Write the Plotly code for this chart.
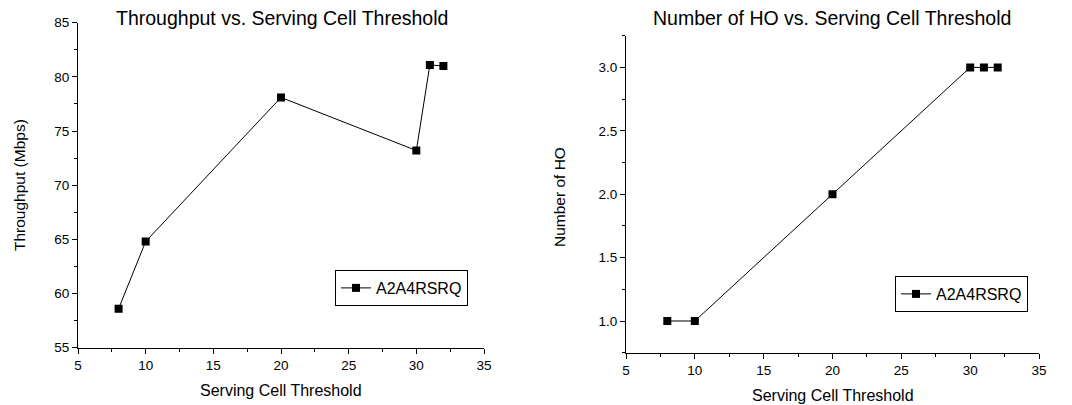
import plotly.graph_objects as go

threshold = [8, 10, 20, 30, 31, 32]
throughput = [58.6, 64.8, 78.1, 73.2, 81.1, 81.0]
num_ho = [1, 1, 2, 3, 3, 3]
series_name = "A2A4RSRQ"

FONT = "Liberation Sans, Arial, sans-serif"
H = 405.0
W = 1072.0
OFF = 8.0  # page body offset


def fx(p):
    return (p - OFF) / W


def fy(p):
    return 1 - (p - OFF) / H


fig = go.Figure()
fig.add_trace(go.Scatter(x=threshold, y=throughput, mode="lines+markers", name=series_name,
                         line=dict(color="black", width=1),
                         marker=dict(symbol="square", size=8, color="black"),
                         xaxis="x", yaxis="y", legend="legend"))
fig.add_trace(go.Scatter(x=threshold, y=num_ho, mode="lines+markers", name=series_name,
                         line=dict(color="black", width=1),
                         marker=dict(symbol="square", size=8, color="black"),
                         xaxis="x2", yaxis="y2", legend="legend2"))


def ax(dom, rng, dtick, minor_dtick, anchor, fmt=None):
    d = dict(domain=dom, range=rng, dtick=dtick, tick0=0, showgrid=False, zeroline=False,
             showline=True, linecolor="black", linewidth=1, ticks="outside", ticklen=5,
             tickcolor="black", tickfont=dict(family=FONT, size=13.5, color="black"),
             minor=dict(dtick=minor_dtick, ticks="outside", ticklen=3, tickcolor="black"),
             anchor=anchor, mirror=False, fixedrange=True, automargin=False)
    if fmt:
        d["tickformat"] = fmt
    return d


fig.update_layout(
    width=1072, height=405,
    margin=dict(l=0, r=0, t=0, b=0, pad=0, autoexpand=False),
    paper_bgcolor="white", plot_bgcolor="white",
    font=dict(family=FONT, color="black"),
    xaxis=ax([fx(78), fx(484)], [5, 35], 5, 2.5, "y"),
    yaxis=ax([fy(347.7), fy(22.7)], [55, 85], 5, 2.5, "x"),
    xaxis2=ax([fx(626), fx(1039)], [5, 35], 5, 2.5, "y2"),
    yaxis2=ax([fy(352.7), fy(35.7)], [0.75, 3.25], 0.5, 0.25, "x2", ".1f"),
    legend=dict(x=fx(335), y=fy(270), xanchor="left", yanchor="top",
                bordercolor="black", borderwidth=1, bgcolor="white",
                font=dict(family=FONT, size=16, color="black"), itemwidth=30,
                tracegroupgap=0),
    legend2=dict(x=fx(895), y=fy(276), xanchor="left", yanchor="top",
                 bordercolor="black", borderwidth=1, bgcolor="white",
                 font=dict(family=FONT, size=16, color="black"), itemwidth=30,
                 tracegroupgap=0),
    showlegend=True,
)

anns = [
    dict(text="Throughput vs. Serving Cell Threshold", x=fx(282), y=fy(18), size=19.5, angle=0),
    dict(text="Number of HO vs. Serving Cell Threshold", x=fx(832), y=fy(18), size=19.5, angle=0),
    dict(text="Serving Cell Threshold", x=fx(281), y=fy(390), size=16, angle=0),
    dict(text="Serving Cell Threshold", x=fx(833), y=fy(395), size=16, angle=0),
    dict(text="Throughput (Mbps)", x=fx(19), y=fy(185), size=15.5, angle=-90),
    dict(text="Number of HO", x=fx(559), y=fy(197), size=15.5, angle=-90),
]
for a in anns:
    fig.add_annotation(text=a["text"], x=a["x"], y=a["y"], xref="paper", yref="paper",
                       xanchor="center", yanchor="middle", showarrow=False, textangle=a["angle"],
                       font=dict(family=FONT, size=a["size"], color="black"))

fig.write_html("out.html")
